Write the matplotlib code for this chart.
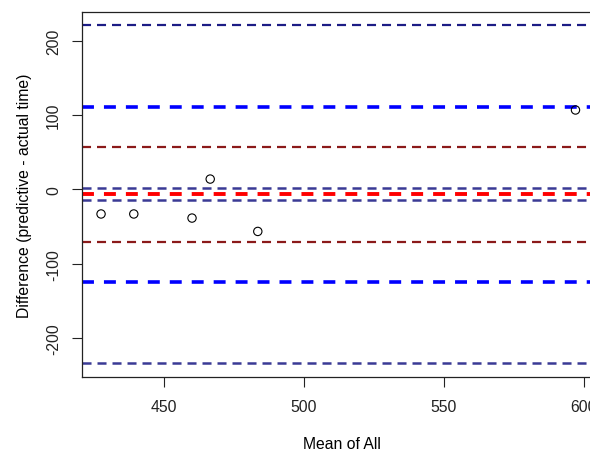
import numpy as np
import matplotlib
matplotlib.use("Agg")
import matplotlib.pyplot as plt

plt.rcParams['font.family'] = ['Liberation Sans', 'DejaVu Sans']
plt.rcParams['axes.unicode_minus'] = False

# Data
mean_all = [427.5, 439.2, 460.0, 466.5, 483.5, 597.0]
diffs = [-33, -33, -38.5, 14, -56.5, 107]

# Reference lines: value, colour, width
line_vals = [221.9, 111.7, 57.0, 2.2, -6.4, -14.8, -70.5, -124.8, -234.0]
line_cols = ['#1c1c85', '#0000ff', '#8b1a1a', '#3a3a95', '#ff0000',
             '#3a3a95', '#8b1a1a', '#0000ff', '#3a3a95']
line_lws = [1.6, 2.6, 1.6, 1.8, 2.8, 1.8, 1.6, 2.6, 1.8]

fig = plt.figure(figsize=(5.9, 4.52), dpi=100)
ax = fig.add_axes([0.139, 0.1637, 1.02 - 0.139, 0.972 - 0.1637])

for v, c, lw in zip(line_vals, line_cols, line_lws):
    # same dash length in pixels whatever the width
    if lw > 2.5:
        dash = (8.6 / lw, 7.2 / lw)
    else:
        dash = (6.5 / lw, 4.3 / lw)
    ax.axhline(v, color=c, lw=lw, linestyle=(0, dash))

ax.scatter(mean_all, diffs, s=36, facecolors='none', edgecolors='black',
           linewidths=0.8, zorder=3)

ax.set_xlim(420.7, 606.4)
ax.set_ylim(-252.5, 239.4)
ax.set_xticks([450, 500, 550, 600])
ax.set_yticks([-200, -100, 0, 100, 200])
ax.tick_params(axis='both', labelsize=11.3, length=7, width=0.8, colors='#222222')
ax.tick_params(axis='x', pad=9)
ax.tick_params(axis='y', pad=8)
for lab in ax.get_yticklabels():
    lab.set_rotation(90)
    lab.set_va('center')
for s in ax.spines.values():
    s.set_linewidth(0.9)
    s.set_color('#222222')

ax.set_xlabel("Mean of All", fontsize=11.3, labelpad=16)
ax.set_ylabel("Difference (predictive - actual time)", fontsize=11.3, labelpad=10)

fig.savefig("out.png", dpi=100)
